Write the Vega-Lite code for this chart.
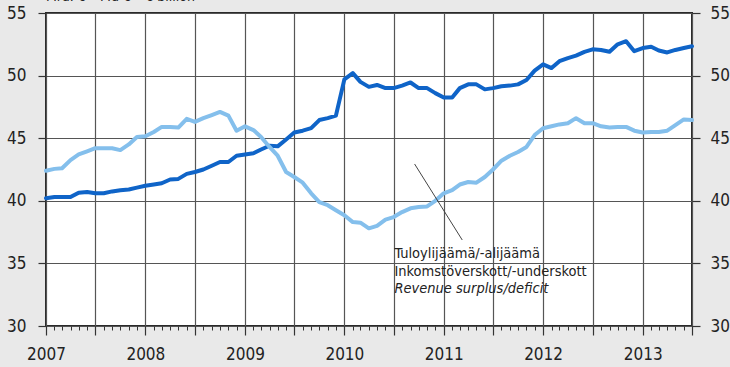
{
  "$schema": "https://vega.github.io/schema/vega-lite/v6.json",
  "width": 646,
  "height": 313,
  "autosize": {"type": "none"},
  "padding": {"left": 46, "top": 13, "right": 38, "bottom": 41},
  "background": "#e9e9e9",
  "config": {
    "font": "DejaVu Sans Condensed, sans-serif",
    "view": {"fill": "white", "stroke": "#2a2a2a", "strokeWidth": 2},
    "axis": {"domain": false, "title": null, "labelColor": "#222", "tickColor": "#333", "gridColor": "#555", "gridWidth": 1.2, "labelFont": "DejaVu Sans Condensed, sans-serif"}
  },
  "title": {"text": "Mrd. € – Md € – € billion", "anchor": "start", "frame": "group", "offset": 0, "fontSize": 14, "fontWeight": "normal", "color": "#222", "font": "DejaVu Sans Condensed, sans-serif"},
  "layer": [
    {
      "data": {"values": [
        {"d":"2007-01-01","a":40.2,"b":42.4},{"d":"2007-02-01","a":40.3,"b":42.55},{"d":"2007-03-01","a":40.3,"b":42.6},{"d":"2007-04-01","a":40.3,"b":43.25},{"d":"2007-05-01","a":40.65,"b":43.7},{"d":"2007-06-01","a":40.7,"b":43.95},{"d":"2007-07-01","a":40.6,"b":44.2},{"d":"2007-08-01","a":40.6,"b":44.2},{"d":"2007-09-01","a":40.75,"b":44.2},{"d":"2007-10-01","a":40.85,"b":44.05},{"d":"2007-11-01","a":40.9,"b":44.5},{"d":"2007-12-01","a":41.05,"b":45.1},
        {"d":"2008-01-01","a":41.2,"b":45.15},{"d":"2008-02-01","a":41.3,"b":45.5},{"d":"2008-03-01","a":41.4,"b":45.9},{"d":"2008-04-01","a":41.7,"b":45.9},{"d":"2008-05-01","a":41.75,"b":45.85},{"d":"2008-06-01","a":42.15,"b":46.55},{"d":"2008-07-01","a":42.3,"b":46.3},{"d":"2008-08-01","a":42.5,"b":46.6},{"d":"2008-09-01","a":42.8,"b":46.85},{"d":"2008-10-01","a":43.1,"b":47.1},{"d":"2008-11-01","a":43.1,"b":46.8},{"d":"2008-12-01","a":43.6,"b":45.6},
        {"d":"2009-01-01","a":43.7,"b":45.95},{"d":"2009-02-01","a":43.8,"b":45.65},{"d":"2009-03-01","a":44.1,"b":45.1},{"d":"2009-04-01","a":44.4,"b":44.3},{"d":"2009-05-01","a":44.35,"b":43.6},{"d":"2009-06-01","a":44.9,"b":42.3},{"d":"2009-07-01","a":45.45,"b":41.9},{"d":"2009-08-01","a":45.6,"b":41.45},{"d":"2009-09-01","a":45.8,"b":40.6},{"d":"2009-10-01","a":46.45,"b":39.9},{"d":"2009-11-01","a":46.6,"b":39.65},{"d":"2009-12-01","a":46.8,"b":39.25},
        {"d":"2010-01-01","a":49.7,"b":38.85},{"d":"2010-02-01","a":50.2,"b":38.3},{"d":"2010-03-01","a":49.5,"b":38.25},{"d":"2010-04-01","a":49.1,"b":37.8},{"d":"2010-05-01","a":49.25,"b":38.0},{"d":"2010-06-01","a":49.0,"b":38.5},{"d":"2010-07-01","a":49.0,"b":38.7},{"d":"2010-08-01","a":49.2,"b":39.1},{"d":"2010-09-01","a":49.45,"b":39.4},{"d":"2010-10-01","a":49.0,"b":39.5},{"d":"2010-11-01","a":49.0,"b":39.55},{"d":"2010-12-01","a":48.6,"b":40.0},
        {"d":"2011-01-01","a":48.25,"b":40.6},{"d":"2011-02-01","a":48.25,"b":40.85},{"d":"2011-03-01","a":49.0,"b":41.3},{"d":"2011-04-01","a":49.3,"b":41.5},{"d":"2011-05-01","a":49.3,"b":41.45},{"d":"2011-06-01","a":48.9,"b":41.9},{"d":"2011-07-01","a":49.0,"b":42.5},{"d":"2011-08-01","a":49.15,"b":43.2},{"d":"2011-09-01","a":49.2,"b":43.6},{"d":"2011-10-01","a":49.3,"b":43.9},{"d":"2011-11-01","a":49.65,"b":44.3},{"d":"2011-12-01","a":50.4,"b":45.25},
        {"d":"2012-01-01","a":50.9,"b":45.8},{"d":"2012-02-01","a":50.6,"b":45.95},{"d":"2012-03-01","a":51.15,"b":46.1},{"d":"2012-04-01","a":51.4,"b":46.2},{"d":"2012-05-01","a":51.6,"b":46.6},{"d":"2012-06-01","a":51.9,"b":46.2},{"d":"2012-07-01","a":52.1,"b":46.2},{"d":"2012-08-01","a":52.05,"b":45.95},{"d":"2012-09-01","a":51.9,"b":45.85},{"d":"2012-10-01","a":52.5,"b":45.9},{"d":"2012-11-01","a":52.75,"b":45.9},{"d":"2012-12-01","a":51.95,"b":45.6},
        {"d":"2013-01-01","a":52.2,"b":45.45},{"d":"2013-02-01","a":52.3,"b":45.5},{"d":"2013-03-01","a":52.0,"b":45.5},{"d":"2013-04-01","a":51.85,"b":45.6},{"d":"2013-05-01","a":52.05,"b":46.05},{"d":"2013-06-01","a":52.2,"b":46.5},{"d":"2013-07-01","a":52.35,"b":46.45}
      ]},
      "transform": [{"fold": ["a", "b"], "as": ["k", "v"]}],
      "mark": {"type": "line", "strokeWidth": 4, "strokeJoin": "round", "strokeCap": "round"},
      "encoding": {
        "x": {"field": "d", "type": "temporal",
          "scale": {"type": "utc", "domain": [{"year": 2007, "month": 1, "date": 1, "utc": true}, {"year": 2013, "month": 7, "date": 1, "utc": true}]},
          "axis": {"orient": "bottom", "tickCount": {"interval": "month", "step": 6}, "grid": true, "tickSize": 9, "tickWidth": 1.2, "labelFontSize": 17, "labelPadding": 11, "labelFlush": false, "labelOverlap": false,
            "labelExpr": "utcmonth(datum.value) == 0 ? utcFormat(datum.value, '%Y') : ''"}},
        "y": {"field": "v", "type": "quantitative",
          "scale": {"domain": [30, 55], "nice": false, "zero": false},
          "axis": {"orient": "left", "values": [30, 35, 40, 45, 50, 55], "grid": true, "tickSize": 8, "tickWidth": 1.2, "labelFontSize": 17, "labelPadding": 12}},
        "color": {"field": "k", "type": "nominal", "scale": {"domain": ["a", "b"], "range": ["#0f64c8", "#84bfec"]}, "legend": null}
      }
    },
    {
      "data": {"values": [{"d": "2010-09-16", "v": 42.94, "d2": "2011-03-10", "v2": 36.87}]},
      "mark": {"type": "rule", "color": "#444", "strokeWidth": 1},
      "encoding": {
        "x": {"field": "d", "type": "temporal",
          "axis": {"orient": "bottom", "tickCount": {"interval": "month", "step": 1}, "grid": false, "labels": false, "tickSize": 4, "tickWidth": 1}},
        "x2": {"field": "d2"},
        "y": {"field": "v", "type": "quantitative",
          "axis": {"orient": "right", "values": [30, 35, 40, 45, 50, 55], "grid": false, "tickSize": 8, "tickWidth": 1.2, "labelFontSize": 17, "labelPadding": 10}},
        "y2": {"field": "v2"}
      }
    },
    {
      "data": {"values": [
        {"d": "2010-07-04", "v": 35.43, "t": "Tuloylijäämä/-alijäämä"},
        {"d": "2010-07-04", "v": 34.0, "t": "Inkomstöverskott/-underskott"}
      ]},
      "mark": {"type": "text", "align": "left", "baseline": "alphabetic", "fontSize": 14.5, "color": "#222"},
      "encoding": {
        "x": {"field": "d", "type": "temporal", "axis": null},
        "y": {"field": "v", "type": "quantitative", "axis": null},
        "text": {"field": "t"}
      }
    },
    {
      "data": {"values": [{"d": "2010-07-04", "v": 32.6, "t": "Revenue surplus/deficit"}]},
      "mark": {"type": "text", "align": "left", "baseline": "alphabetic", "fontSize": 14.5, "fontStyle": "italic", "color": "#222"},
      "encoding": {
        "x": {"field": "d", "type": "temporal", "axis": null},
        "y": {"field": "v", "type": "quantitative", "axis": null},
        "text": {"field": "t"}
      }
    }
  ],
  "resolve": {"axis": {"x": "independent", "y": "independent"}}
}
